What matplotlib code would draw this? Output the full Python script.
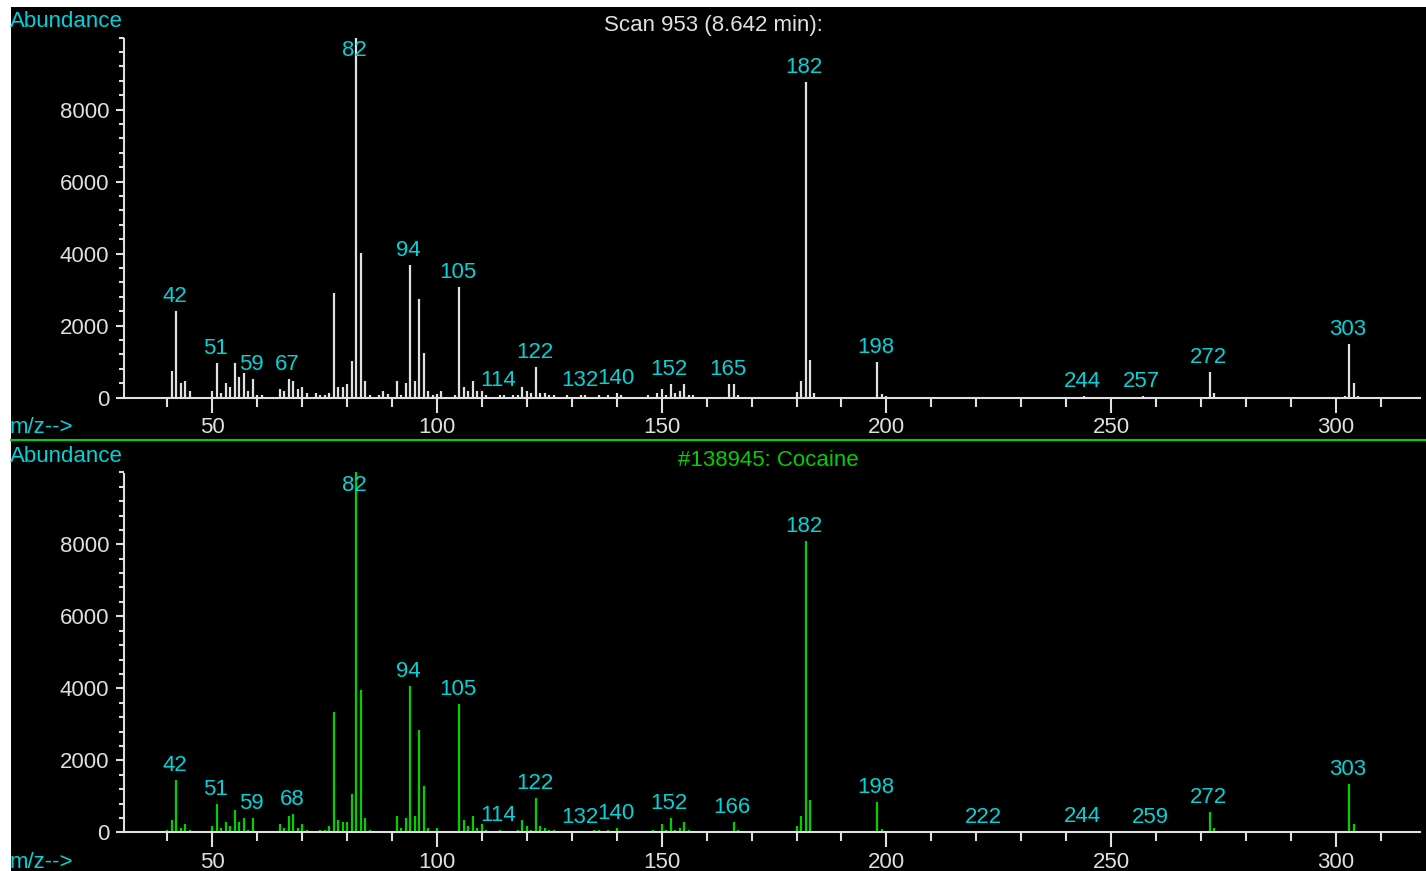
import matplotlib
matplotlib.use('Agg')
import matplotlib.pyplot as plt
from matplotlib.lines import Line2D
from matplotlib.patches import Rectangle
from matplotlib.ticker import MultipleLocator, FixedLocator

plt.rcParams['font.family'] = ['Liberation Sans', 'DejaVu Sans']

W, H = 1426, 871

# scan 953 (8.642 min)
scan_mz = [41, 42, 43, 44, 45, 50, 51, 52, 53, 54, 55, 56, 57, 58, 59, 60, 61,
           65, 66, 67, 68, 69, 70, 71, 73, 74, 75, 76, 77, 78, 79, 80, 81, 82,
           83, 84, 85, 87, 88, 89, 91, 92, 93, 94, 95, 96, 97, 98, 99, 100, 101,
           104, 105, 106, 107, 108, 109, 110, 111, 114, 115, 117, 118, 119, 120,
           121, 122, 123, 124, 125, 126, 129, 132, 133, 136, 138, 140, 141, 147,
           149, 150, 151, 152, 153, 154, 155, 156, 157, 165, 166, 167, 180, 181,
           182, 183, 184, 198, 199, 200, 244, 257, 272, 273, 302, 303, 304, 305]
scan_ab = [740, 2400, 420, 460, 180, 180, 970, 140, 420, 310, 970, 580, 690, 180, 530, 75, 75,
           250, 180, 530, 460, 250, 310, 140, 140, 75, 75, 140, 2920, 310, 310, 370, 1020, 10000,
           4030, 460, 75, 75, 180, 100, 460, 75, 420, 3690, 460, 2750, 1250, 180, 75, 100, 180,
           75, 3080, 310, 180, 460, 180, 180, 75, 75, 75, 75, 75, 310, 180,
           140, 860, 140, 140, 75, 75, 75, 75, 75, 75, 75, 140, 75, 75,
           140, 250, 75, 370, 140, 180, 370, 75, 75, 370, 370, 75, 170, 450,
           8770, 1060, 130, 1000, 100, 50, 50, 50, 720, 120, 50, 1500, 400, 50]
scan_labels = [42, 51, 59, 67, 82, 94, 105, 114, 122, 132, 140, 152, 165, 182,
               198, 244, 257, 272, 303]

# library hit #138945: Cocaine
lib_mz = [40, 41, 42, 43, 44, 45, 50, 51, 52, 53, 54, 55, 56, 57, 58, 59, 65, 66,
          67, 68, 69, 70, 71, 74, 75, 76, 77, 78, 79, 80, 81, 82, 83, 84, 85, 91,
          92, 93, 94, 95, 96, 97, 98, 100, 105, 106, 107, 108, 109, 110, 111, 114,
          118, 119, 120, 121, 122, 123, 124, 125, 126, 132, 135, 136, 138, 140,
          148, 150, 151, 152, 153, 154, 155, 156, 166, 167, 180, 181, 182, 183,
          184, 198, 199, 222, 244, 259, 272, 273, 303, 304, 305]
lib_ab = [64, 340, 1450, 130, 230, 64, 185, 790, 130, 290, 185, 620, 290, 410, 64, 410, 230, 130,
          450, 520, 130, 230, 64, 64, 64, 185, 3350, 340, 290, 290, 1060, 10000, 3950, 410, 64, 450,
          130, 410, 4060, 450, 2840, 1290, 130, 130, 3560, 340, 185, 450, 130, 230, 64, 64,
          64, 340, 185, 64, 960, 185, 130, 64, 64, 20, 64, 64, 64, 130,
          64, 230, 64, 410, 64, 130, 290, 64, 290, 64, 170, 450, 8080, 890,
          50, 850, 93, 20, 46, 20, 565, 111, 1340, 231, 46]
lib_labels = [42, 51, 59, 68, 82, 94, 105, 114, 122, 132, 140, 152, 166, 182,
              198, 222, 244, 259, 272, 303]

FG = '#e0e0e0'
CYAN = '#00d4d8'
GREEN = '#00d000'
FS = 16


def px(x, y):
    # pixel position (from top-left) -> figure fraction
    return x / W, 1 - y / H


fig = plt.figure(figsize=(W / 100, H / 100), dpi=100, facecolor='white')
fig.patches.append(Rectangle(px(11, H), 1 - 11 / W, 1 - 7 / H,
                             transform=fig.transFigure, facecolor='black',
                             edgecolor='none', zorder=-10))


def panel(top_px, mz, ab, labels, color, title, title_color):
    x0, y0 = px(124, top_px + 360)
    ax = fig.add_axes([x0, y0, (1420 - 124) / W, 360 / H])
    ax.set_facecolor('none')
    ax.set_xlim(30.35, 318.74)
    ax.set_ylim(0, 10000)
    ax.vlines(mz, 0, ab, colors=color, lw=1.6, clip_on=False)

    heights = dict(zip(mz, ab))
    for m in labels:
        y = min(heights[m] + 110, 9350)
        ax.text(m - 0.3, y, str(m), color=CYAN, fontsize=FS,
                ha='center', va='bottom')

    for s in ['top', 'right']:
        ax.spines[s].set_visible(False)
    for s in ['left', 'bottom']:
        ax.spines[s].set_color(FG)
        ax.spines[s].set_linewidth(1.5)
    ax.spines['left'].set_bounds(0, 9950)

    ax.xaxis.set_major_locator(FixedLocator([50, 100, 150, 200, 250, 300]))
    ax.xaxis.set_minor_locator(FixedLocator(list(range(40, 320, 10))))
    ax.yaxis.set_major_locator(FixedLocator([0, 2000, 4000, 6000, 8000]))
    ax.yaxis.set_minor_locator(MultipleLocator(400))
    ax.tick_params(axis='x', which='major', length=11, width=1.5, color=FG,
                   labelcolor=FG, labelsize=FS, pad=3)
    ax.tick_params(axis='x', which='minor', length=6.5, width=1.5, color=FG)
    ax.tick_params(axis='y', which='major', length=5.5, width=1.5, color=FG,
                   labelcolor=FG, labelsize=FS, pad=5)
    ax.tick_params(axis='y', which='minor', length=3.5, width=1.5, color=FG)

    fig.text(*px(10, top_px - 16), 'Abundance', color=CYAN, fontsize=FS,
             ha='left', va='center')
    fig.text(*px(10, top_px + 390), 'm/z-->', color=CYAN, fontsize=FS,
             ha='left', va='center')
    fig.text(*px(title[1], top_px - 12), title[0], color=title_color,
             fontsize=FS, ha='center', va='center')
    return ax


panel(37.7, scan_mz, scan_ab, scan_labels, FG,
      ('Scan 953 (8.642 min):', 713), FG)
panel(472.3, lib_mz, lib_ab, lib_labels, GREEN,
      ('#138945: Cocaine', 768), GREEN)

# separator between the two spectra
fig.add_artist(Line2D([11 / W, 1], [1 - 440.5 / H] * 2, color=GREEN, lw=1.5))

fig.savefig('out.png', dpi=100, facecolor='white')
